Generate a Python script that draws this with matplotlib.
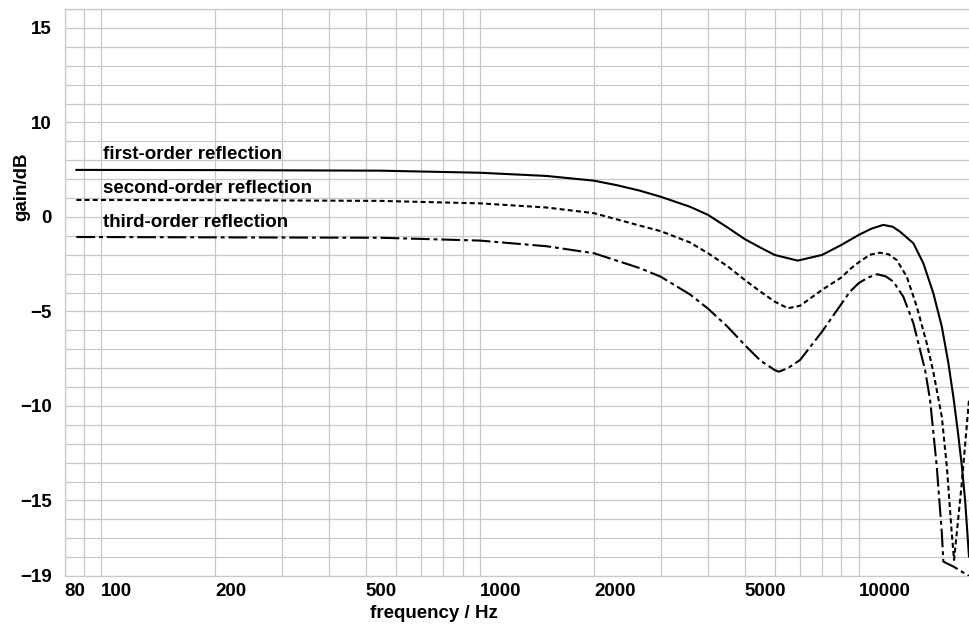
import matplotlib
matplotlib.use("Agg")
import matplotlib.pyplot as plt
from matplotlib.ticker import FixedLocator, NullFormatter

# ── data (frequency in Hz, gain in dB) ───────────────────────────────────────
first_freq = [86, 200, 545, 1000, 1500, 2000, 2300, 2645, 3000, 3585, 4000,
              4500, 5000, 5500, 6000, 6900, 8000, 9000, 10000, 10800, 11614,
              12300, 12855, 13940, 14812, 15740, 16570, 17250, 17800, 18290,
              18700, 19090, 19550]
first_gain = [2.49, 2.48, 2.45, 2.34, 2.17, 1.92, 1.68, 1.39, 1.07, 0.54, 0.11,
              -0.55, -1.17, -1.62, -2.01, -2.31, -2.01, -1.48, -0.95, -0.62, -0.42,
              -0.52, -0.78, -1.39, -2.45, -4.04, -5.8, -7.74, -9.6, -11.44,
              -13.1, -14.97, -17.97]

second_freq = [86, 200, 545, 1000, 1500, 2000, 2645, 3000, 3585, 4000, 4500,
               5000, 5500, 6000, 6500, 7000, 8000, 9000, 9500, 10000, 10700,
               11385, 12000, 12600, 13390, 14230, 15120, 15740, 16570, 17085,
               17600, 17850, 18710, 19550]
second_gain = [0.9, 0.89, 0.85, 0.72, 0.5, 0.2, -0.46, -0.75, -1.35, -1.92, -2.6,
               -3.33, -3.95, -4.48, -4.83, -4.7, -3.86, -3.2, -2.75, -2.4, -2.0,
               -1.89, -1.98, -2.28, -3.16, -4.74, -6.68, -8.2, -10.57, -13.2,
               -16.7, -18.15, -14.1, -9.68]

third_freq = [86, 200, 545, 1000, 1500, 2000, 2645, 3000, 3585, 4000, 4500,
              5000, 5500, 6000, 6150, 6500, 7000, 8000, 9000, 9485, 10000,
              10600, 11197, 11800, 12340, 13115, 13940, 14520, 14970, 15430,
              16070, 16570, 16730, 17780, 19550]
third_gain = [-1.06, -1.08, -1.1, -1.25, -1.55, -1.92, -2.71, -3.16, -4.1, -4.85, -5.8,
              -6.77, -7.6, -8.1, -8.19, -8.0, -7.57, -6.07, -4.6, -3.95, -3.5,
              -3.2, -3.03, -3.15, -3.42, -4.22, -5.62, -7.04, -8.1, -9.68,
              -13.2, -16.7, -18.24, -18.5, -19.0]

curve_labels = ["first-order reflection", "second-order reflection",
                "third-order reflection"]
label_gain = [3.05, 1.25, -0.54]

x_major = [80, 100, 200, 500, 1000, 2000, 5000, 10000]
x_minor = [90, 300, 400, 600, 700, 800, 900, 3000, 4000, 6000, 7000, 8000, 9000]
y_ticks = [-19, -15, -10, -5, 0, 5, 10]
y_ticklabels = ["\u221219", "\u221215", "\u221210", "\u22125", "0", "10", "15"]

plt.rcParams["font.family"] = ["Liberation Sans", "DejaVu Sans"]
plt.rcParams["font.weight"] = "bold"
plt.rcParams["lines.scale_dashes"] = False

fig = plt.figure(figsize=(9.69, 6.28), dpi=100)
ax = fig.add_axes([64.5 / 969, 1 - 576 / 628, 1 - 64.5 / 969, (576 - 9.1) / 628])

grid_col = "#c8c8c8"
ax.plot(first_freq, first_gain, color="black", lw=1.5, ls="-", zorder=3)
ax.plot(second_freq, second_gain, color="black", lw=1.5,
        dashes=[3.6, 2.3], zorder=3)
ax.plot(third_freq, third_gain, color="black", lw=1.5,
        dashes=[13.5, 2.8, 2.8, 2.8], zorder=3)

for text, g in zip(curve_labels, label_gain):
    ax.text(101, g, text, ha="left", va="baseline", fontsize=13.5,
            fontweight="bold", zorder=4)

ax.set_xscale("log")
ax.set_xlim(80, 19550)
ax.set_ylim(-19, 11)

ax.xaxis.set_major_locator(FixedLocator(x_major))
ax.xaxis.set_minor_locator(FixedLocator(x_minor))
ax.set_xticks(x_major, [str(v) for v in x_major])
ax.xaxis.set_minor_formatter(NullFormatter())
ax.set_yticks(y_ticks, y_ticklabels)
ax.yaxis.set_minor_locator(FixedLocator(list(range(-19, 12))))

for lab in ax.get_xticklabels():
    lab.set_ha("left")
ax.tick_params(axis="both", which="both", length=0, labelsize=13.5)
ax.tick_params(axis="x", pad=5)
ax.tick_params(axis="y", pad=9)

ax.grid(True, which="both", color=grid_col, lw=0.9, zorder=0)
ax.set_axisbelow(True)
for side, sp in ax.spines.items():
    sp.set_color(grid_col)
    sp.set_linewidth(0.9)
ax.spines["right"].set_visible(False)

fig.text(433.5 / 969, 1 - 613 / 628, "frequency / Hz", ha="center", va="center",
         fontsize=13.5, fontweight="bold")
fig.text(22 / 969, 1 - 187 / 628, "gain/dB", ha="center", va="center",
         rotation=90, fontsize=13.5, fontweight="bold")

fig.savefig("out.png", dpi=100)
